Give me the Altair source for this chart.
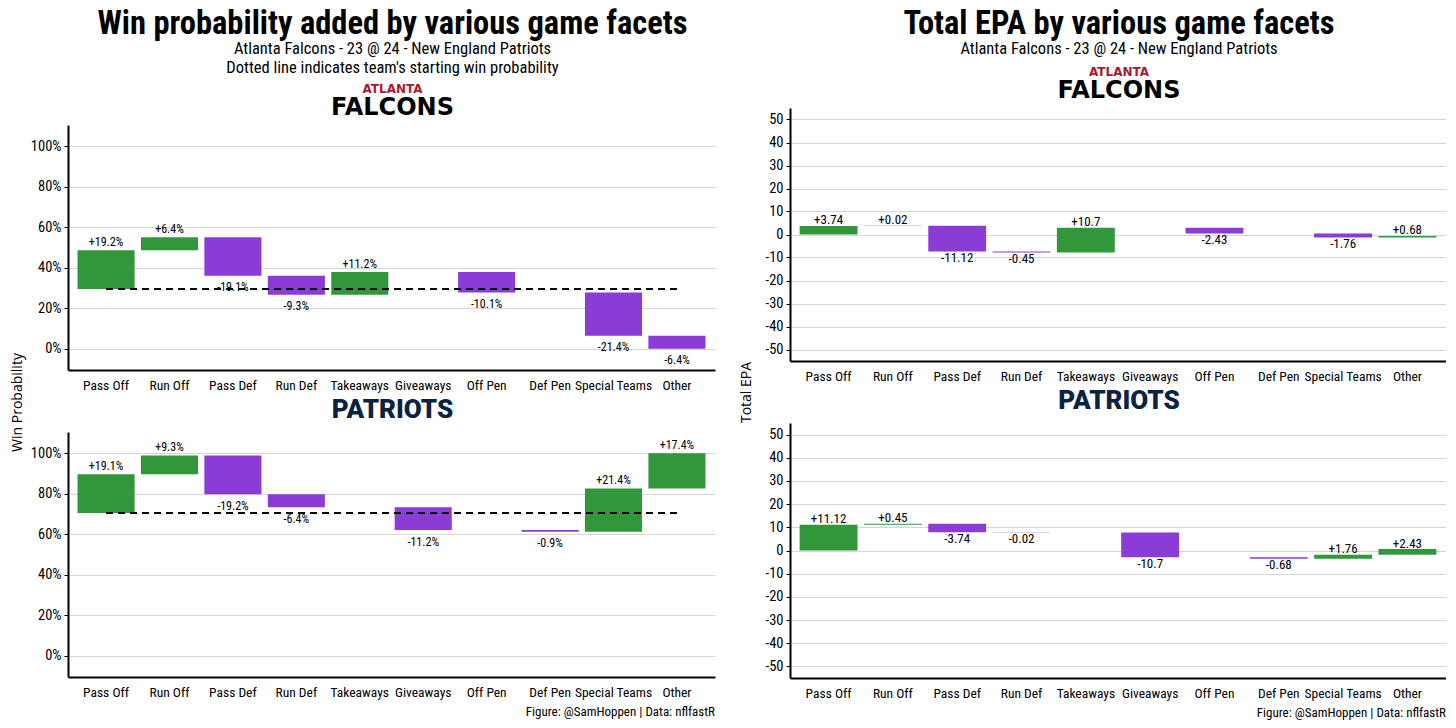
import altair as alt
import pandas as pd

categories = ["Pass Off", "Run Off", "Pass Def", "Run Def", "Takeaways",
              "Giveaways", "Off Pen", "Def Pen", "Special Teams", "Other"]

wp_start_atl = 29.5
wp_start_ne = 70.5
wp_atl = [19.2, 6.4, -19.1, -9.3, 11.2, 0.0, -10.1, 0.0, -21.4, -6.4]
wp_ne = [19.1, 9.3, -19.2, -6.4, 0.0, -11.2, 0.0, -0.9, 21.4, 17.4]
epa_atl = [3.74, 0.02, -11.12, -0.45, 10.7, 0.0, -2.43, 0.0, -1.76, 0.68]
epa_ne = [11.12, 0.45, -3.74, -0.02, 0.0, -10.7, 0.0, -0.68, 1.76, 2.43]

wp_ticks = [0, 20, 40, 60, 80, 100]
epa_ticks = [-50, -40, -30, -20, -10, 0, 10, 20, 30, 40, 50]

wp_title = "Win probability added by various game facets"
wp_subtitles = ["Atlanta Falcons - 23 @ 24 - New England Patriots",
                "Dotted line indicates team's starting win probability"]
epa_title = "Total EPA by various game facets"
epa_subtitles = ["Atlanta Falcons - 23 @ 24 - New England Patriots"]
caption_text = "Figure: @SamHoppen | Data: nflfastR"

F = "Roboto Condensed, Roboto, sans-serif"
GREEN = "#31973a"
PURPLE = "#8b3bd6"


def waterfall(values, start, fmt):
    rows = []
    cur = start
    for c, v in zip(categories, values):
        s = cur
        e = cur + v
        cur = e
        rows.append(dict(cat=c, start=s, end=e, val=v,
                         sign="pos" if v > 0 else "neg",
                         label=fmt(v), top=max(s, e), bot=min(s, e)))
    df = pd.DataFrame(rows)
    return df[df["val"] != 0]


def text_line(txt, x, y, size, weight="normal", font=F, color="black"):
    return alt.Chart(pd.DataFrame({"t": [txt]})).mark_text(
        font=font, fontSize=size, fontWeight=weight, color=color,
        align="center", baseline="middle").encode(
        text="t:N", x=alt.value(x), y=alt.value(y))


def panel(df, start, domain, ticks, label_expr, width, height, team,
          ytitle=None, ytitle_x=0, ytitle_y=0, caption=False,
          dy_pos=-8.5, dy_neg=11.5, label_size=12,
          head=None, subs=(), head_y=0, sub_y0=0):
    xscale = alt.Scale(domain=categories, paddingInner=0.1, paddingOuter=0.15)
    xaxis = alt.Axis(title=None, labelAngle=0, ticks=False, grid=False,
                     labelFontSize=13.5, labelPadding=8)
    yscale = alt.Scale(domain=domain, nice=False, zero=False)
    if ytitle:
        yaxis = alt.Axis(values=ticks, labelExpr=label_expr, title=ytitle,
                         titleX=ytitle_x, titleY=ytitle_y, titleAngle=-90,
                         titleBaseline="middle", titleFont="Open Sans",
                         titleFontSize=14, titleFontWeight="normal",
                         titleColor="black")
    else:
        yaxis = alt.Axis(values=ticks, labelExpr=label_expr, title=None)

    def X():
        return alt.X("cat:N", sort=categories, scale=xscale, axis=xaxis)

    def Y(f):
        return alt.Y(f, type="quantitative", scale=yscale, axis=yaxis)

    bars = alt.Chart(df).mark_bar().encode(
        x=X(), y=Y("start"), y2="end",
        color=alt.Color("sign:N", scale=alt.Scale(domain=["pos", "neg"],
                                                  range=[GREEN, PURPLE]),
                        legend=None))
    pos = alt.Chart(df).transform_filter("datum.val > 0").mark_text(
        font=F, fontSize=label_size, color="black", baseline="middle",
        dy=dy_pos).encode(x=X(), y=Y("top"), text="label:N")
    neg = alt.Chart(df).transform_filter("datum.val < 0").mark_text(
        font=F, fontSize=label_size, color="black", baseline="middle",
        dy=dy_neg).encode(x=X(), y=Y("bot"), text="label:N")
    layers = [bars, pos, neg]
    if start is not None:
        line_df = pd.DataFrame({"cat": [categories[0], categories[-1]],
                                "v": [start, start]})
        line = alt.Chart(line_df).mark_line(
            color="black", strokeDash=[7, 5], strokeWidth=1.8).encode(
            x=X(), y=Y("v"))
        layers.append(line)
    cx = width / 2 + 1
    if team == "ATL":
        layers.append(text_line("ATLANTA", cx, -36, 12, "bold",
                                "DejaVu Sans", "#a71930"))
        layers.append(text_line("FALCONS", cx, -17, 24, "bold",
                                "DejaVu Sans", "black"))
    else:
        layers.append(text_line("PATRIOTS", cx, -22, 26, 900,
                                "Roboto", "#0b2240"))
    if caption:
        cap = alt.Chart(pd.DataFrame({"t": [caption_text]})).mark_text(
            font=F, fontSize=13, color="black", align="right",
            baseline="middle").encode(
            text="t:N", x=alt.value(width), y=alt.value(height + 35))
        layers.append(cap)
    if head:
        layers.append(text_line(head, cx, head_y, 32.5, "bold"))
        for i, s in enumerate(subs):
            layers.append(text_line(s, cx, sub_y0 + 19 * i, 16.5))
    return alt.layer(*layers).properties(width=width, height=height)


pct = "datum.value + '%'"
num = "datum.value"

wp_fmt = lambda v: f"{v:+.1f}%"
epa_fmt = lambda v: f"{v:+g}"

wp_a = panel(waterfall(wp_atl, wp_start_atl, wp_fmt), wp_start_atl,
             [-10.5, 110.5], wp_ticks, pct, 647, 245, "ATL",
             ytitle="Win Probability", ytitle_x=-51, ytitle_y=277,
             head=wp_title, subs=wp_subtitles, head_y=-101, sub_y0=-76)
wp_n = panel(waterfall(wp_ne, wp_start_ne, wp_fmt), wp_start_ne,
             [-10.5, 110.5], wp_ticks, pct, 647, 245, "NE",
             caption=True)
epa_a = panel(waterfall(epa_atl, 0.0, epa_fmt), None, [-55, 55], epa_ticks,
              num, 656, 253, "ATL", ytitle="Total EPA",
              ytitle_x=-44, ytitle_y=284, dy_pos=-5.5, dy_neg=6.5,
              label_size=13,
              head=epa_title, subs=epa_subtitles, head_y=-84, sub_y0=-59)
epa_n = panel(waterfall(epa_ne, 0.0, epa_fmt), None, [-55, 55], epa_ticks,
              num, 656, 255, "NE", caption=True,
              dy_pos=-5.5, dy_neg=6.5, label_size=13)

# empty spacer that lowers the left column (its header has an extra line)
spacer = alt.Chart(pd.DataFrame({"a": [0]})).mark_point(opacity=0).encode(
    x=alt.value(0), y=alt.value(0)).properties(width=647, height=17)

left = alt.vconcat(
    spacer, alt.vconcat(wp_a, wp_n, spacing=62, bounds="flush"),
    spacing=0, bounds="flush")
right = alt.vconcat(epa_a, epa_n, spacing=62, bounds="flush")

chart = alt.hconcat(left, right, spacing=24, bounds="full").properties(
    padding={"left": 2, "top": 0, "right": 0, "bottom": 0},
    background="white",
).configure_view(stroke=None).configure_axis(
    domainColor="black", domainWidth=2, tickColor="black", tickWidth=1,
    tickSize=4, gridColor="#d6d6d6", gridWidth=1, labelColor="black",
    labelFont=F, labelFontSize=14.5,
).configure_axisY(grid=True, labelPadding=3)

chart.save("out.html", embed_options={"renderer": "svg", "actions": False})
